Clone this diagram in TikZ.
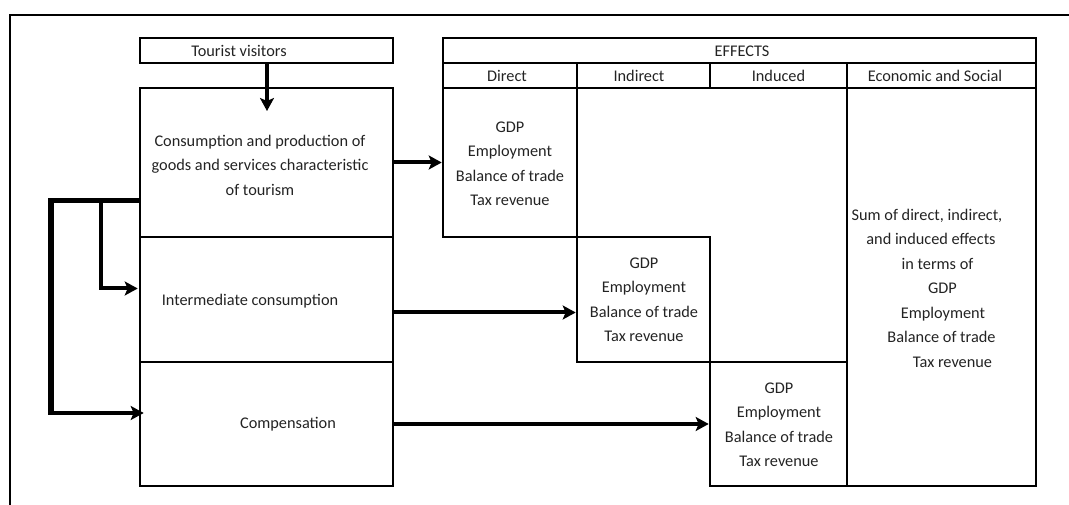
\documentclass[tikz,border=0pt]{standalone}
\usepackage{fontspec}
\setmainfont{Carlito}
\usetikzlibrary{arrows.meta,calc}
\definecolor{txtc}{RGB}{35,35,35}
\begin{document}
\begin{tikzpicture}[x=1pt,y=-1pt,
  box/.style={draw=black,line width=2.6pt,rectangle,inner sep=0pt},
  txt/.style={text=txtc,align=center,inner sep=0pt,font=\fontsize{16.3}{24.5}\selectfont},
  arr/.style={draw=black,line width=4pt,-{Stealth[length=13pt,width=14pt,inset=3pt]}},
  fbline/.style={draw=black,line width=4.2pt},
  fbthick/.style={draw=black,line width=6pt}]
\useasboundingbox (0,0) rectangle (1069,505);
% outer frame
\coordinate (frTR) at (1069,15);
\coordinate (frTL) at (10,15);
\coordinate (frBL) at (10,505);
\draw[line width=2.4pt] (frTR) -- (frTL) -- (frBL);

% left column
\node[box,minimum width=253pt,minimum height=25pt] (tourist) at (266.5,50.5) {};
\node[box,minimum width=253pt,minimum height=149pt] (cons) at (266.5,162.5) {};
\node[box,minimum width=253pt,minimum height=125pt] (inter) at (266.5,299.5) {};
\node[box,minimum width=253pt,minimum height=124pt] (comp) at (266.5,424) {};

\node[txt] (touristT) at (239,51) {Tourist visitors};
\node[txt] (consT) at (260,165) {Consumption and production of\\goods and services characteristic\\of tourism};
\node[txt] (interT) at (250,301) {Intermediate consumption};
\node[txt] (compT) at (288,424) {Compensation};

% effects table
\node[box,minimum width=593pt,minimum height=25pt] (effects) at (739.5,50.5) {};
\node[txt] (effectsT) at (742,51) {EFFECTS};
\node[box,minimum width=134pt,minimum height=25pt] (hdir) at (510,75.5) {};
\node[box,minimum width=133pt,minimum height=25pt] (hind) at (643.5,75.5) {};
\node[box,minimum width=137pt,minimum height=25pt] (hindc) at (778.5,75.5) {};
\node[box,minimum width=189pt,minimum height=25pt] (hecon) at (941.5,75.5) {};
\node[txt] (hdirT) at (507,76) {Direct};
\node[txt] (hindT) at (639,76) {Indirect};
\node[txt] (hindcT) at (778.5,76) {Induced};
\node[txt] (heconT) at (935,76) {Economic and Social};

\node[box,minimum width=134pt,minimum height=149pt] (dirb) at (510,162.5) {};
\node[box,minimum width=133pt,minimum height=125pt] (indb) at (643.5,299.5) {};
\node[box,minimum width=137pt,minimum height=124pt] (indcb) at (778.5,424) {};
\node[box,minimum width=189pt,minimum height=398pt] (econb) at (941.5,287) {};

\node[txt] (dirT) at (510,164) {GDP\\Employment\\Balance of trade\\Tax revenue};
\node[txt] (indT) at (644,300) {GDP\\Employment\\Balance of trade\\Tax revenue};
\node[txt] (indcT) at (779,425) {GDP\\Employment\\Balance of trade\\Tax revenue};
\node[txt] (econT) at (941.5,288) {\hspace*{-29pt}Sum of direct, indirect,\\\hspace*{-21pt}and induced effects\\\hspace*{-8pt}in terms of\\\hspace*{2pt}GDP\\\hspace*{3pt}Employment\\Balance of trade\\\hspace*{22pt}Tax revenue};

% main arrows
\coordinate (tipT) at (267,111);
\draw[arr] (tourist.south -| tipT) -- (tipT);
\draw[arr] (cons) -- (dirb);
\draw[arr] ([yshift=-13pt]inter.east) -- ([yshift=-13pt]indb.west);
\draw[arr] (comp) -- (indcb);

% feedback connectors
\coordinate (xL) at (51,0);
\coordinate (xM) at (101,0);
\coordinate (fbA) at ([yshift=-38pt]cons.west);
\coordinate (fbB) at ([yshift=11pt,xshift=5pt]comp.west);
\coordinate (fbC) at ([yshift=11pt,xshift=-1pt]inter.west);
\draw[fbline] (fbA) -- ([xshift=-3pt]xL |- fbA);
\draw[fbthick] ([yshift=2pt]xL |- fbA) -- ([yshift=-2pt]xL |- fbB);
\draw[arr] ([xshift=-3pt]xL |- fbB) -- (fbB);
\draw[line width=3.2pt] (xM |- fbA) -- (xM |- fbC);
\draw[arr] ([xshift=-1.6pt]xM |- fbC) -- (fbC);
\end{tikzpicture}
\end{document}
